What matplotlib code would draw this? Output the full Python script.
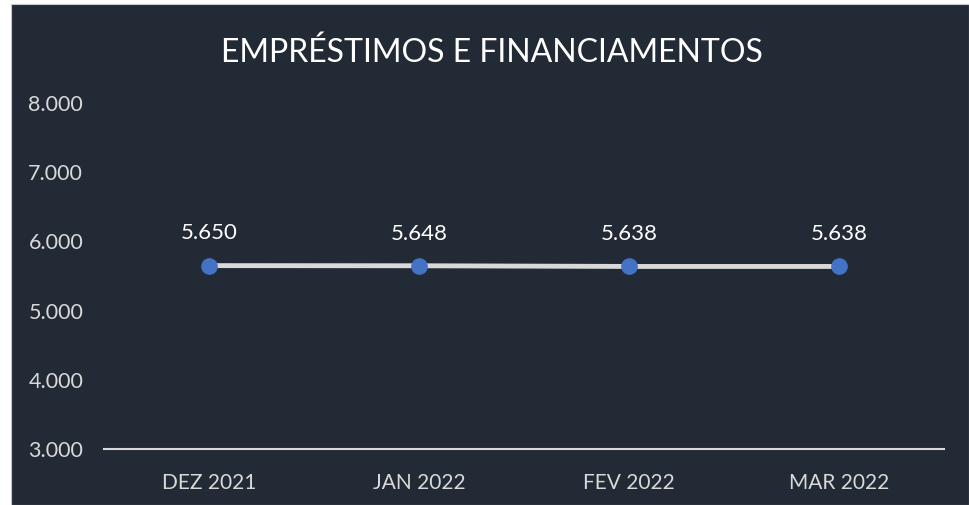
import matplotlib
matplotlib.use('Agg')
from matplotlib import pyplot as plt
from matplotlib.patches import Rectangle

# Chart data
months = ['DEZ 2021', 'JAN 2022', 'FEV 2022', 'MAR 2022']
values = [5650, 5648, 5638, 5638]
yticks = [3000, 4000, 5000, 6000, 7000, 8000]

BG = '#222a35'
TXT = '#d9d9d9'

def fmt(v):
    return f'{v:,.0f}'.replace(',', '.')

plt.rcParams['font.family'] = ['Lato', 'DejaVu Sans']

W, H = 969, 505
fig = plt.figure(figsize=(W / 100, H / 100), dpi=100, facecolor='white')
fig.patches.append(Rectangle((11 / W, 0), 1 - 11 / W, 1 - 4 / H,
                             transform=fig.transFigure, facecolor=BG,
                             edgecolor='#c8c8c8', linewidth=0.8, zorder=-5))

ax = fig.add_axes([104 / W, (H - 449) / H, 840 / W, 346 / H])
ax.set_zorder(2)
ax.patch.set_alpha(0)

x = list(range(len(months)))
ax.plot(x, values, color=TXT, linewidth=3.5, zorder=2)
ax.plot(x, values, linestyle='none', marker='o', markersize=11,
        markerfacecolor='#4472c4', markeredgecolor='#4472c4', zorder=3)

for xi, v in zip(x, values):
    ax.annotate(fmt(v), (xi, v), xytext=(0, 16), textcoords='offset points',
                ha='center', va='bottom', color='white', fontsize=16)

ax.set_xlim(-0.5, len(months) - 0.5)
ax.set_ylim(yticks[0], yticks[-1])
ax.set_xticks(x)
ax.set_xticklabels(months)
ax.set_yticks(yticks)
ax.set_yticklabels([fmt(t) for t in yticks])
ax.tick_params(axis='both', length=0, colors=TXT)
ax.tick_params(axis='y', pad=15, labelsize=15.5)
ax.tick_params(axis='x', pad=17, labelsize=15)

for side in ['top', 'right', 'left']:
    ax.spines[side].set_visible(False)
ax.spines['bottom'].set_color(TXT)
ax.spines['bottom'].set_linewidth(1.5)

fig.text(492 / W, 1 - 53 / H, 'EMPRÉSTIMOS E FINANCIAMENTOS', ha='center',
         va='center', color='white', fontsize=23)

fig.savefig('out.png', dpi=100, facecolor=fig.get_facecolor())
